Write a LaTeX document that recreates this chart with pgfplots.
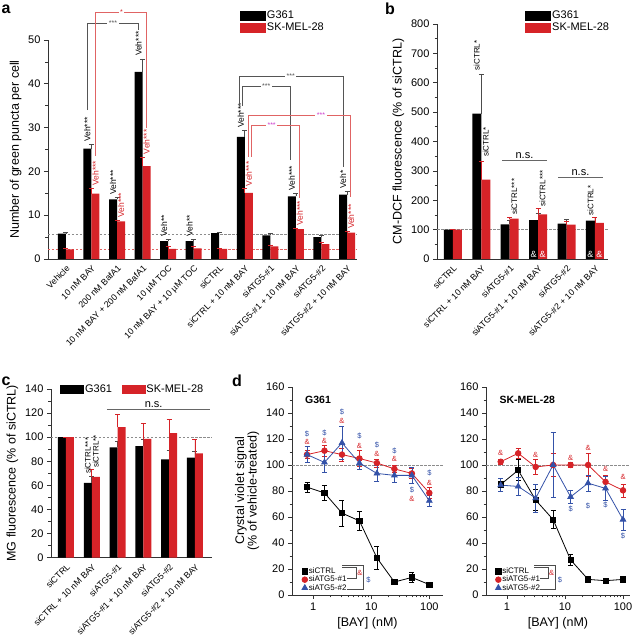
\documentclass[border=0pt]{standalone}
\usepackage{pgfplots}
\pgfplotsset{compat=1.18}
\usepackage{fontspec}
\setmainfont{Liberation Sans}
\definecolor{barred}{RGB}{214,35,40}
\definecolor{lred}{RGB}{224,100,100}
\definecolor{dblue}{RGB}{52,82,168}
\definecolor{mag}{RGB}{205,60,205}
\definecolor{brg}{RGB}{85,85,85}
\newcommand{\fs}[1]{\fontsize{#1}{#1}\selectfont}
\tikzset{
  veh/.style={rotate=90, anchor=west, font=\fs{8.5}, inner sep=0.5pt},
  sic/.style={rotate=90, anchor=west, font=\fs{8}, inner sep=0.5pt},
  dd/.style={font=\fs{7.5}, text=dblue, inner sep=0pt},
  da/.style={font=\fs{7.5}, text=barred, inner sep=0pt},
}
\pgfplotsset{
  base/.style={
    scale only axis, clip=false, anchor=south west,
    axis x line*=bottom, axis y line*=left,
    axis line style={black!80, line width=0.7pt},
    tick style={black!80, line width=0.7pt},
    tick align=outside,
    major tick length=4pt, minor tick length=2.5pt,
    tick label style={font=\fs{11}},
    /pgf/number format/assume math mode=true,
    ylabel style={font=\fs{12.5}},
    xlabel style={font=\fs{12.5}},
  },
  barax/.style={base,
    major x tick style={draw=none},
    x tick label style={font=\fs{8.8}, rotate=45, anchor=north east, inner sep=1pt},
    legend style={draw=none, fill=none, font=\fs{11}, row sep=0pt, inner sep=0pt, nodes={inner sep=1.5pt}},
    legend cell align=left,
  },
  blk/.style={ybar, fill=black, draw=none, bar width=8pt, bar shift=-4pt, forget plot,
    error bars/y dir=plus, error bars/y explicit,
    error bars/error bar style={black!70, line width=0.6pt},
    error bars/error mark options={rotate=90, black!70, line width=0.6pt, mark size=2.5pt}},
  rd/.style={ybar, fill=barred, draw=none, bar width=8pt, bar shift=4pt, forget plot,
    error bars/y dir=plus, error bars/y explicit,
    error bars/error bar style={barred, line width=0.6pt},
    error bars/error mark options={rotate=90, barred, line width=0.6pt, mark size=2.5pt}},
  refl/.style={dash pattern=on 2.5pt off 1.5pt, line width=0.6pt, forget plot},
  lk/.style={black, line width=0.8pt, mark=square*, mark size=2.6pt,
    error bars/y dir=both, error bars/y explicit,
    error bars/error bar style={line width=0.6pt},
    error bars/error mark options={rotate=90, line width=0.6pt, mark size=2.5pt}},
  lr/.style={barred, line width=0.8pt, mark=*, mark size=2.8pt,
    error bars/y dir=both, error bars/y explicit,
    error bars/error bar style={line width=0.6pt},
    error bars/error mark options={rotate=90, line width=0.6pt, mark size=2.5pt}},
  lb/.style={dblue, line width=0.8pt, mark=triangle*, mark size=3.2pt,
    error bars/y dir=both, error bars/y explicit,
    error bars/error bar style={line width=0.6pt},
    error bars/error mark options={rotate=90, line width=0.6pt, mark size=2.5pt}},
  dleg/.style={
    legend style={draw=none, fill=none, font=\fs{8}, at={(0.065,0.01)}, anchor=south west, row sep=-1.5pt, inner sep=0pt, nodes={inner sep=1.2pt}},
    legend cell align=left,
    legend image code/.code={\draw[##1] plot coordinates {(0.1cm,0cm)};}},
}
\begin{document}
\begin{tikzpicture}[x=1pt,y=1pt]
\path[use as bounding box] (0pt,0pt) rectangle (641pt,636pt);

% ---------------- panel a ----------------
\begin{axis}[barax, at={(48pt,377pt)}, width=309pt, height=219pt,
  xmin=-0.70, xmax=11.39, ymin=0, ymax=50,
  ytick={0,10,...,50}, minor y tick num=1, xtick={0,...,11},
  xticklabels={Vehicle, 10 nM BAY, 200 nM BafA1, 10 nM BAY + 200 nM BafA1, 10 µM TOC, 10 nM BAY + 10 µM TOC, siCTRL, siCTRL + 10 nM BAY, siATG5-\#1, siATG5-\#1 + 10 nM BAY, siATG5-\#2, siATG5-\#2 + 10 nM BAY},
  ylabel={Number of green puncta per cell},
  legend style={at={(0.621,1.14)}, anchor=north west}]
\addplot[refl, black!45] coordinates {(-0.70,5.6) (11.39,5.6)};
\addplot[refl, lred] coordinates {(-0.70,2.2) (11.39,2.2)};
\addplot[blk] table[x=x, y=y, y error=e] {
x y e
0 5.8 0.4
1 25.2 1.0
2 13.6 0.5
3 42.7 3.0
4 4.1 0.4
5 4.1 0.4
6 5.9 0.3
7 27.9 1.5
8 5.4 0.4
9 14.3 0.8
10 5.0 0.5
11 14.7 0.8
};
\addplot[rd] table[x=x, y=y, y error=e] {
x y e
0 2.2 0.2
1 14.9 1.3
2 8.6 0.3
3 21.2 2.0
4 2.3 0.5
5 2.4 0.5
6 2.3 0.2
7 15.1 1.0
8 2.9 0.3
9 6.8 0.3
10 3.4 0.4
11 6.0 0.3
};
\addlegendimage{legend image code/.code={\fill[black] (0pt,-4.5pt) rectangle (25pt,4.5pt);}}
\addlegendentry{G361}
\addlegendimage{legend image code/.code={\fill[barred] (0pt,-4.5pt) rectangle (25pt,4.5pt);}}
\addlegendentry{SK-MEL-28}
% Veh annotations
\node[veh] at (axis cs:0.843,26.6) {Veh***};
\node[veh] at (axis cs:1.843,14.5) {Veh***};
\node[veh] at (axis cs:2.843,46.2) {Veh***};
\node[veh] at (axis cs:3.843,5.0) {Veh**};
\node[veh] at (axis cs:4.843,5.0) {Veh**};
\node[veh] at (axis cs:6.843,29.8) {Veh***};
\node[veh] at (axis cs:8.843,15.5) {Veh***};
\node[veh] at (axis cs:10.843,16.0) {Veh*};
\node[veh, text=barred] at (axis cs:1.157,16.6) {Veh***};
\node[veh, text=barred] at (axis cs:2.157,9.3) {Veh***};
\node[veh, text=barred] at (axis cs:3.157,23.8) {Veh***};
\node[veh, text=barred] at (axis cs:7.157,16.5) {Veh***};
\node[veh, text=barred] at (axis cs:9.157,7.5) {Veh***};
\node[veh, text=barred] at (axis cs:11.157,6.7) {Veh***};
% brackets
\draw[brg, line width=0.6pt] (axis cs:0.843,34) |- (axis cs:2.843,53.9) -- (axis cs:2.843,52.3);
\node[fill=white, inner sep=1.5pt, font=\fs{7}, text=brg] at (axis cs:1.84,53.9) {***};
\draw[lred, line width=0.6pt] (axis cs:1.157,23.5) |- (axis cs:3.157,56.4) -- (axis cs:3.157,30);
\node[fill=white, inner sep=1.5pt, font=\fs{7}, text=barred] at (axis cs:2.18,56.4) {*};
\draw[brg, line width=0.6pt] (axis cs:6.78,35) |- (axis cs:10.85,41.8) -- (axis cs:10.85,21);
\node[fill=white, inner sep=1.5pt, font=\fs{7}, text=brg] at (axis cs:8.8,41.8) {***};
\draw[brg, line width=0.6pt] (axis cs:6.90,35) |- (axis cs:8.78,39.4) -- (axis cs:8.78,22.6);
\node[fill=white, inner sep=1.5pt, font=\fs{7}, text=brg] at (axis cs:7.84,39.4) {***};
\draw[lred, line width=0.6pt] (axis cs:7.12,23.4) |- (axis cs:11.12,32.9) -- (axis cs:11.12,14.2);
\node[fill=white, inner sep=1.5pt, font=\fs{7}, text=mag] at (axis cs:9.98,32.9) {***};
\draw[lred, line width=0.6pt] (axis cs:7.24,23.4) |- (axis cs:9.12,30.6) -- (axis cs:9.12,14);
\node[fill=white, inner sep=1.5pt, font=\fs{7}, text=mag] at (axis cs:8.05,30.6) {***};
\end{axis}

% ---------------- panel b ----------------
\begin{axis}[barax, at={(437pt,377pt)}, width=171pt, height=235pt,
  xmin=-0.56, xmax=5.46, ymin=0, ymax=800,
  ytick={0,100,...,800}, minor y tick num=1, xtick={0,...,5},
  xticklabels={siCTRL, siCTRL + 10 nM BAY, siATG5-\#1, siATG5-\#1 + 10 nM BAY, siATG5-\#2, siATG5-\#2 + 10 nM BAY},
  ylabel={CM-DCF fluorescence (\% of siCTRL)},
  legend style={at={(0.515,1.064)}, anchor=north west}]
\addplot[refl, black!45] coordinates {(-0.56,100) (5.46,100)};
\addplot[blk, bar width=9pt, bar shift=-4.5pt] table[x=x, y=y, y error=e] {
x y e
0 100 0
1 495 135
2 118 13
3 132 24
4 120 15
5 131 12
};
\addplot[rd, bar width=9pt, bar shift=4.5pt] table[x=x, y=y, y error=e] {
x y e
0 100 0
1 270 64
2 137 6
3 152 19
4 117 10
5 123 19
};
\addlegendimage{legend image code/.code={\fill[black] (0pt,-4.5pt) rectangle (25pt,4.5pt);}}
\addlegendentry{G361}
\addlegendimage{legend image code/.code={\fill[barred] (0pt,-4.5pt) rectangle (25pt,4.5pt);}}
\addlegendentry{SK-MEL-28}
\node[sic] at (axis cs:0.842,640) {siCTRL*};
\node[sic] at (axis cs:1.158,345) {siCTRL*};
\node[sic] at (axis cs:2.158,148) {siCTRL***};
\node[sic] at (axis cs:3.158,176) {siCTRL***};
\node[sic] at (axis cs:4.842,146) {siCTRL*};
\draw[black!60, line width=0.7pt] (axis cs:1.73,337) -- (axis cs:3.31,337);
\node[anchor=south, font=\fs{11}, inner sep=1.5pt] at (axis cs:2.52,337) {n.s.};
\draw[black!60, line width=0.7pt] (axis cs:3.70,279) -- (axis cs:5.28,279);
\node[anchor=south, font=\fs{11}, inner sep=1.5pt] at (axis cs:4.49,279) {n.s.};
\node[font=\fs{9}, text=white] at (axis cs:2.842,17) {\&};
\node[font=\fs{9}, text=white] at (axis cs:3.158,17) {\&};
\node[font=\fs{9}, text=white] at (axis cs:4.842,17) {\&};
\node[font=\fs{9}, text=white] at (axis cs:5.158,17) {\&};
\end{axis}

% ---------------- panel c ----------------
\begin{axis}[barax, at={(51pt,78.3pt)}, width=161pt, height=168.7pt,
  xmin=-0.58, xmax=5.66, ymin=0, ymax=140,
  ytick={0,20,...,140}, minor y tick num=1, xtick={0,...,5},
  xticklabels={siCTRL, siCTRL + 10 nM BAY, siATG5-\#1, siATG5-\#1 + 10 nM BAY, siATG5-\#2, siATG5-\#2 + 10 nM BAY},
  ylabel={MG fluorescence (\% of siCTRL)},
  legend columns=2,
  legend style={at={(0.056,1.036)}, anchor=north west, /tikz/every even column/.append style={column sep=8pt}}]
\addplot[refl, black!45] coordinates {(-0.58,100) (5.66,100)};
\addplot[blk] table[x=x, y=y, y error=e] {
x y e
0 100 0
1 62 5.5
2 91.5 5.5
3 92.5 5.5
4 81.5 7.5
5 83 5
};
\addplot[rd] table[x=x, y=y, y error=e] {
x y e
0 100 0
1 67 6
2 108.3 10.3
3 98.5 13
4 103.3 11.7
5 86.5 12
};
\addlegendimage{legend image code/.code={\fill[black] (0pt,-4pt) rectangle (23pt,4pt);}}
\addlegendentry{G361}
\addlegendimage{legend image code/.code={\fill[barred] (0pt,-4pt) rectangle (23pt,4pt);}}
\addlegendentry{SK-MEL-28}
\node[sic] at (axis cs:0.845,69) {siCTRL***};
\node[sic] at (axis cs:1.155,74) {siCTRL**};
\draw[black!60, line width=0.7pt] (axis cs:1.59,123) -- (axis cs:5.58,123);
\node[anchor=south, font=\fs{11}, inner sep=1.5pt] at (axis cs:3.4,123) {n.s.};
\end{axis}

% ---------------- panel d (G361) ----------------
\begin{axis}[base, dleg, at={(292pt,41pt)}, width=151pt, height=208pt, xmode=log,
  xmin=0.43, xmax=172, ymin=0, ymax=160,
  ytick={0,20,...,160}, minor y tick num=1,
  xtick={1,10,100}, xticklabels={1,10,100},
  xlabel={[BAY] (nM)}, ylabel={Crystal violet signal\\(\% of vehicle-treated)},
  ylabel style={align=center}]
\addplot[refl, black!45] coordinates {(0.43,100) (172,100)};
\addplot[lk] table[x=x, y=y, y error=e] {
x y e
0.78 83 4
1.56 78.5 6
3.125 63 10
6.25 57 7
12.5 28.5 9
25 10 1
50 13.5 4
100 8 1
};
\addplot[lr] table[x=x, y=y, y error=e] {
x y e
0.78 108 3
1.56 111 4
3.125 108 5
6.25 105 6
12.5 101.5 3
25 97 3
50 93.5 4
100 78.5 4
};
\addplot[lb] table[x=x, y=y, y error=e] {
x y e
0.78 108 6
1.56 102 8
3.125 117 13
6.25 101.5 5
12.5 93.5 6
25 92 5
50 92 6
100 72.5 4
};
\legend{siCTRL, siATG5-\#1, siATG5-\#2}
\node[font=\bfseries\fs{10.5}, anchor=west, inner sep=0pt] at (rel axis cs:0.086,0.9375) {G361};
\node[dd] at (axis cs:0.78,123.8) {\$};
\node[da] at (axis cs:0.78,117.4) {\&};
\node[dd] at (axis cs:1.56,124.8) {\$};
\node[da] at (axis cs:1.56,118.5) {\&};
\node[dd] at (axis cs:3.125,141) {\$};
\node[da] at (axis cs:3.125,134) {\&};
\node[dd] at (axis cs:6.25,122.5) {\$};
\node[da] at (axis cs:6.25,114.8) {\&};
\node[dd] at (axis cs:12.5,115.4) {\$};
\node[da] at (axis cs:12.5,108.5) {\&};
\node[dd] at (axis cs:25,111) {\$};
\node[da] at (axis cs:25,104.4) {\&};
\node[dd] at (axis cs:50,80.8) {\$};
\node[da] at (axis cs:50,73.6) {\&};
\node[dd] at (axis cs:100,93.6) {\$};
\node[da] at (axis cs:100,86.4) {\&};
\end{axis}

% ---------------- panel d (SK-MEL-28) ----------------
\begin{axis}[base, dleg, at={(486pt,41pt)}, width=144pt, height=208pt, xmode=log,
  xmin=0.435, xmax=132, ymin=0, ymax=160,
  ytick={0,20,...,160}, minor y tick num=1,
  xtick={1,10,100}, xticklabels={1,10,100},
  xlabel={[BAY] (nM)}]
\addplot[refl, black!45] coordinates {(0.435,100) (132,100)};
\addplot[lk] table[x=x, y=y, y error=e] {
x y e
0.78 85 5
1.56 96 8
3.125 73 8
6.25 58 7
12.5 27 4
25 12 1
50 11 1
100 12 1
};
\addplot[lr] table[x=x, y=y, y error=e] {
x y e
0.78 102.5 2
1.56 109 4
3.125 98.5 6
6.25 100 9
12.5 100 2
25 100 9
50 87 5
100 80.5 5
};
\addplot[lb] table[x=x, y=y, y error=e] {
x y e
0.78 84.5 5
1.56 83.5 7
3.125 74.5 11
6.25 100 25
12.5 75.5 5
25 86 6
50 82 9
100 58 8
};
\legend{siCTRL, siATG5-\#1, siATG5-\#2}
\node[font=\bfseries\fs{10.5}, anchor=west, inner sep=0pt] at (rel axis cs:0.093,0.9375) {SK-MEL-28};
\node[da] at (axis cs:0.78,109) {\&};
\node[da] at (axis cs:3.125,107.7) {\&};
\node[da] at (axis cs:12.5,105.1) {\&};
\node[da] at (axis cs:25,113) {\&};
\node[da] at (axis cs:50,96.7) {\&};
\node[da] at (axis cs:100,91) {\&};
\node[dd] at (axis cs:12.5,65.9) {\$};
\node[dd] at (axis cs:25,68.5) {\$};
\node[dd] at (axis cs:50,69.2) {\$};
\node[dd] at (axis cs:100,45.4) {\$};
\end{axis}

% legend brackets in d
\draw[black!70, line width=0.5pt] (342pt,68.5pt) -- (356.7pt,68.5pt) -- (356.7pt,58pt) -- (347pt,58pt);
\draw[black!70, line width=0.5pt] (342pt,71pt) -- (363.3pt,71pt) -- (363.3pt,46.5pt) -- (347pt,46.5pt);
\node[da] at (359.8pt,63pt) {\&};
\node[dd] at (368.5pt,56pt) {\$};
\draw[black!70, line width=0.5pt] (534pt,68.5pt) -- (548pt,68.5pt) -- (548pt,58pt) -- (540pt,58pt);
\draw[black!70, line width=0.5pt] (534pt,71pt) -- (555pt,71pt) -- (555pt,46.5pt) -- (540pt,46.5pt);
\node[da] at (551.5pt,63pt) {\&};
\node[dd] at (560pt,56pt) {\$};

% panel letters
\node[font=\bfseries\fs{16}] at (6pt,627pt) {a};
\node[font=\bfseries\fs{16}] at (390pt,627pt) {b};
\node[font=\bfseries\fs{16}] at (6pt,255pt) {c};
\node[font=\bfseries\fs{16}] at (237pt,255pt) {d};
\end{tikzpicture}
\end{document}
